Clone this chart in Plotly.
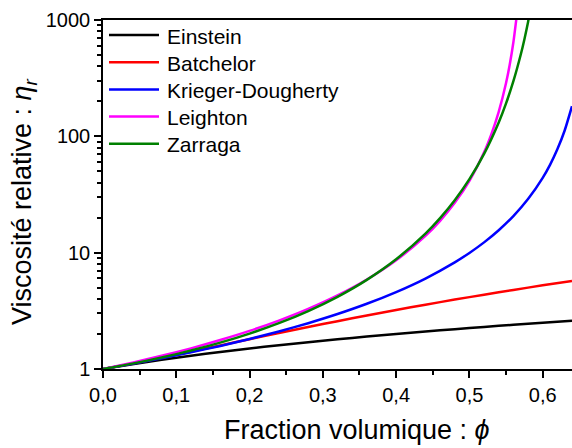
import plotly.graph_objects as go

# Volume fraction grid
phi_lin = [0.0, 0.04, 0.08, 0.12, 0.16, 0.20, 0.24, 0.28, 0.32, 0.36, 0.40,
           0.44, 0.48, 0.52, 0.56, 0.60, 0.64]
einstein = [1.0, 1.1, 1.2, 1.3, 1.4, 1.5, 1.6, 1.7, 1.8, 1.9, 2.0,
            2.1, 2.2, 2.3, 2.4, 2.5, 2.6]
batchelor = [1.0, 1.112, 1.249, 1.409, 1.595, 1.804, 2.038, 2.296, 2.578, 2.885, 3.216,
             3.571, 3.951, 4.355, 4.783, 5.236, 5.713]

phi_kd = [0.0, 0.04, 0.08, 0.12, 0.16, 0.20, 0.24, 0.28, 0.32, 0.36, 0.40,
          0.44, 0.48, 0.50, 0.52, 0.54, 0.56, 0.58, 0.60, 0.61, 0.62, 0.63, 0.64]
krieger = [1.0, 1.109, 1.237, 1.392, 1.579, 1.811, 2.102, 2.475, 2.967, 3.636, 4.583,
           5.994, 8.255, 9.948, 12.26, 15.59, 20.62, 28.87, 43.96, 56.87, 77.29, 112.3, 181.6]

phi_le = [0.0, 0.04, 0.08, 0.12, 0.16, 0.20, 0.24, 0.28, 0.32, 0.36, 0.40,
          0.44, 0.46, 0.48, 0.50, 0.52, 0.53, 0.54, 0.55, 0.555, 0.56, 0.565]
leighton = [1.0, 1.133, 1.298, 1.505, 1.773, 2.125, 2.605, 3.283, 4.288, 5.874, 8.605,
            13.95, 18.79, 26.79, 41.44, 72.93, 104.5, 162.4, 287.3, 412.7, 643.2, 1140.6]

phi_za = [0.0, 0.04, 0.08, 0.12, 0.16, 0.20, 0.24, 0.28, 0.32, 0.36, 0.40,
          0.44, 0.46, 0.48, 0.50, 0.52, 0.54, 0.55, 0.56, 0.57, 0.575, 0.58, 0.585]
zarraga = [1.0, 1.112, 1.255, 1.440, 1.684, 2.015, 2.477, 3.149, 4.175, 5.840, 8.778,
           14.60, 19.83, 28.25, 42.81, 70.59, 131.6, 191.8, 297.6, 502.4, 681.1, 958.4, 1414.0]

y_major = [1, 10, 100, 1000]
y_major_labels = ["1", "10", "100", "1000"]
y_minor = [m * d for d in (1, 10, 100) for m in range(2, 10)]

series = [
    ("Einstein", phi_lin, einstein, "#000000"),
    ("Batchelor", phi_lin, batchelor, "#ff0000"),
    ("Krieger-Dougherty", phi_kd, krieger, "#0000ff"),
    ("Leighton", phi_le, leighton, "#ff00ff"),
    ("Zarraga", phi_za, zarraga, "#008000"),
]

# plot-area geometry in pixels (for placing the hand-made legend and titles)
L, R, T, B = 103, 572, 20, 369
PW, PH = R - L, B - T


def px_x(p):
    return (p - L) / PW


def px_y(p):
    return (B - p) / PH


fig = go.Figure()
for name, xs, ys, col in series:
    fig.add_trace(go.Scatter(x=xs, y=ys, name=name, mode="lines", showlegend=False,
                             line=dict(color=col, width=2.5, shape="spline", smoothing=0.6)))

FONT = "Liberation Sans, Arial, sans-serif"

shapes = []
annotations = []
for i, (name, xs, ys, col) in enumerate(series):
    row = 35 + 27.2 * i
    shapes.append(dict(type="line", xref="paper", yref="paper",
                       x0=px_x(109), x1=px_x(159), y0=px_y(row), y1=px_y(row),
                       line=dict(color=col, width=2.5)))
    annotations.append(dict(text=name, xref="paper", yref="paper",
                            x=px_x(165), y=px_y(row + 1), xanchor="left", yanchor="middle",
                            showarrow=False, font=dict(size=21)))

annotations += [
    dict(text="Fraction volumique : <i>ϕ</i>", xref="paper", yref="paper",
         x=px_x(357), y=px_y(430), xanchor="center", yanchor="middle",
         showarrow=False, font=dict(size=27)),
    dict(text="Viscosité relative : <i>η<sub>r</sub></i>", xref="paper", yref="paper",
         x=px_x(24), y=px_y(202), xanchor="center", yanchor="middle",
         textangle=-90, showarrow=False, font=dict(size=27)),
]

fig.update_layout(
    width=572, height=448,
    margin=dict(l=L, r=572 - R, t=T, b=448 - B),
    paper_bgcolor="white", plot_bgcolor="white",
    separators=",.",
    font=dict(family=FONT, size=20, color="black"),
    showlegend=False,
    xaxis=dict(range=[0, 0.64], dtick=0.1, tick0=0, tickformat=".1f",
               showgrid=False, zeroline=False,
               showline=True, linecolor="black", linewidth=1.5, mirror=True,
               ticks="outside", ticklen=7, tickwidth=1.5, tickcolor="black",
               minor=dict(dtick=0.05, tick0=0, ticks="outside", ticklen=4,
                          tickwidth=1.5, tickcolor="black", showgrid=False),
               tickfont=dict(size=20)),
    yaxis=dict(type="log", range=[0, 3], tickvals=y_major, ticktext=y_major_labels,
               showgrid=False, zeroline=False,
               showline=True, linecolor="black", linewidth=1.5,
               ticks="outside", ticklen=7, tickwidth=1.5, tickcolor="black",
               minor=dict(tickvals=y_minor, ticks="outside", ticklen=4,
                          tickwidth=1.5, tickcolor="black", showgrid=False),
               tickfont=dict(size=20)),
    shapes=shapes,
    annotations=annotations,
)

fig.write_html("out.html", config={"displayModeBar": False})
with open("out.html", "r", encoding="utf-8") as f:
    html = f.read()
html = html.replace("<head>", "<head><style>html,body{margin:0;padding:0;overflow:hidden;}</style>", 1)
with open("out.html", "w", encoding="utf-8") as f:
    f.write(html)
